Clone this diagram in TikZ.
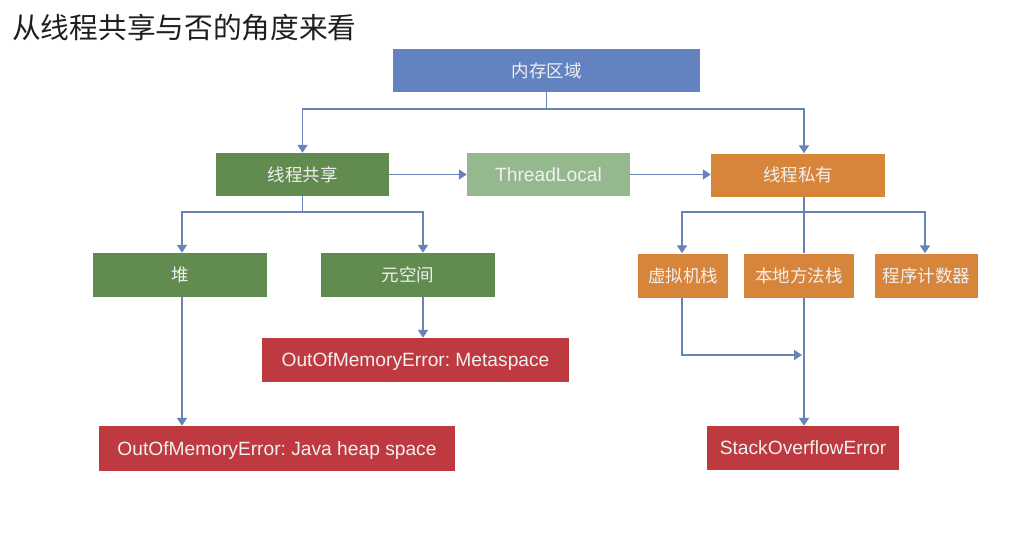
\documentclass[tikz,border=0pt]{standalone}
\usepackage{fontspec}
\setmainfont{Liberation Sans}
\newfontfamily\cjk{Noto Sans CJK SC}
\usetikzlibrary{arrows.meta}
\frenchspacing
\definecolor{cblue}{RGB}{98,130,192}
\definecolor{cgreen}{RGB}{98,139,80}
\definecolor{clgreen}{RGB}{150,184,142}
\definecolor{corange}{RGB}{216,133,60}
\definecolor{cred}{RGB}{190,58,64}
\definecolor{cline}{RGB}{104,132,182}
\newcommand\zhtxt{\cjk\fontsize{17.5}{20}\selectfont}
\newcommand\entxt{\fontsize{19.2}{22}\selectfont}
\begin{document}
\begin{tikzpicture}[x=1pt,y=-1pt,
  box/.style={rectangle, inner sep=0pt, minimum height=44pt, text=white!94!black, anchor=center},
  zhbox/.style={box, font=\zhtxt},
  enbox/.style={box, font=\entxt, text height=13.7pt, text depth=0pt},
  ln/.style={draw=cline, line width=1.8pt},
  arr/.style={ln, -{Triangle[width=10pt,length=8pt]}}]
\useasboundingbox[fill=white] (0,0) rectangle (1024,533);
\node[anchor=west, font=\cjk\fontsize{28.7}{32}\selectfont, text=black!88, inner sep=0pt] (title) at (12,27.5) {从线程共享与否的角度来看};

\node[zhbox, fill=cblue, minimum width=307pt, minimum height=43pt] (top) at (546.5,70.5) {内存区域};
\node[zhbox, fill=cgreen, minimum width=173pt, minimum height=43pt] (share) at (302.5,174.5) {线程共享};
\node[enbox, fill=clgreen, minimum width=163pt, minimum height=43pt] (tl) at (548.5,174.5) {ThreadLocal};
\node[zhbox, fill=corange, minimum width=174pt, minimum height=43pt] (priv) at (798,175) {线程私有};

\node[zhbox, fill=cgreen, minimum width=174pt] (heap) at (180,275) {堆};
\node[zhbox, fill=cgreen, minimum width=174pt] (meta) at (408,275) {元空间};
\node[zhbox, fill=corange, minimum width=90pt] (vm) at (683,275.5) {虚拟机栈};
\node[zhbox, fill=corange, minimum width=110pt] (native) at (799,275.5) {本地方法栈};
\node[zhbox, fill=corange, minimum width=103pt] (pc) at (926.5,275.5) {程序计数器};

\node[enbox, fill=cred, minimum width=307pt] (msp) at (415.5,360) {OutOfMemoryError: Metaspace};
\node[enbox, fill=cred, minimum width=356pt, minimum height=45pt] (jhs) at (277,448.5) {OutOfMemoryError: Java heap space};
\node[enbox, fill=cred, minimum width=192pt] (soe) at (803,448) {StackOverflowError};

% top level
\draw[ln] (top.south) -- ++(0,17) coordinate (tj);
\draw[arr] (tj) -| (share.north);
\draw[arr] (tj) -| ([xshift=6pt]priv.north);
\draw[arr] (share.east) -- (tl.west);
\draw[arr] (tl.east) -- (priv.west |- tl.east);

% shared
\draw[ln] (share.south) -- ++(0,16) coordinate (sj);
\draw[arr] (sj) -| ([xshift=2pt]heap.north);
\draw[arr] (sj) -| ([xshift=15pt]meta.north);
\draw[arr] ([xshift=15pt]meta.south) -- ([xshift=15pt]meta.south |- msp.north);
\draw[arr] ([xshift=2pt]heap.south) -- ([xshift=2pt]heap.south |- jhs.north);

% private
\draw[ln] ([xshift=6pt]priv.south) -- ++(0,15) coordinate (pj);
\draw[ln] (pj) -- ([xshift=5pt]native.north);
\draw[arr] (pj) -| ([xshift=-1pt]vm.north);
\draw[arr] (pj) -| ([xshift=-1.5pt]pc.north);
\coordinate (mj) at (802,355);
\draw[arr] ([xshift=-1pt]vm.south) |- (mj);
\draw[arr] ([xshift=5pt]native.south) -- ([xshift=1pt]soe.north);
\end{tikzpicture}
\end{document}
